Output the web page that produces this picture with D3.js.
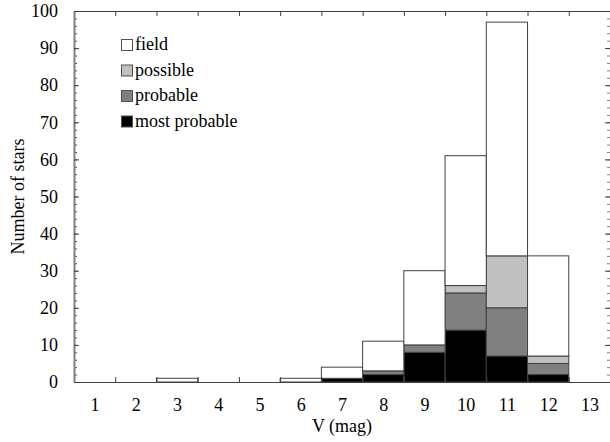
<!DOCTYPE html>
<html>
<head>
<meta charset="utf-8">
<script src="https://cdn.jsdelivr.net/npm/d3@7"></script>
<style>
  body { margin: 0; background: #fff; }
  svg { display: block; }
  text { font-family: "Liberation Serif", "Times New Roman", serif; fill: #000; }
</style>
</head>
<body>
<svg id="chart" width="610" height="442"></svg>
<script>
// V magnitude bins and star counts per membership class
const mags = [1, 2, 3, 4, 5, 6, 7, 8, 9, 10, 11, 12, 13];
const mostProbable = [0, 0, 0, 0, 0, 0, 1, 2, 8, 14, 7, 2, 0];
const probable     = [0, 0, 0, 0, 0, 0, 0, 1, 2, 10, 13, 3, 0];
const possible     = [0, 0, 0, 0, 0, 0, 0, 0, 0, 2, 14, 2, 0];
const field        = [0, 0, 1, 0, 0, 1, 3, 8, 20, 35, 63, 27, 0];
const classes = ["most probable", "probable", "possible", "field"];
const legendOrder = ["field", "possible", "probable", "most probable"];
const yTicks = [0, 10, 20, 30, 40, 50, 60, 70, 80, 90, 100];

const colours = {
    "most probable": "#000000",
    "probable": "#808080",
    "possible": "#c0c0c0",
    "field": "#ffffff"
};

const svg = d3.select("#chart");
const plotL = 74, plotR = 610, plotT = 11, plotB = 382;

const x = d3.scaleLinear().domain([0.5, 13.5]).range([plotL, plotR]);
const y = d3.scaleLinear().domain([0, 100]).range([plotB, plotT]);

const rows = mags.map((m, i) => ({
    mag: m,
    "most probable": mostProbable[i],
    "probable": probable[i],
    "possible": possible[i],
    "field": field[i]
}));
const series = d3.stack().keys(classes)(rows);

// bars
series.forEach(s => {
    svg.append("g")
        .selectAll("rect")
        .data(s.filter(d => d[1] > d[0]))
        .enter().append("rect")
        .attr("x", d => x(d.data.mag - 0.5))
        .attr("width", d => x(d.data.mag + 0.5) - x(d.data.mag - 0.5))
        .attr("y", d => y(d[1]))
        .attr("height", d => y(d[0]) - y(d[1]))
        .attr("fill", colours[s.key])
        .attr("stroke", "#404040")
        .attr("stroke-width", 1);
});

// boundaries between bins for ticks
const edges = d3.range(1.5, 13, 1);

// bottom axis: inward ticks at bin edges
const bottomAxis = svg.append("g")
    .attr("transform", `translate(0,${plotB})`)
    .call(d3.axisBottom(x).tickValues(edges).tickSize(-5).tickSizeOuter(0).tickFormat(""));
bottomAxis.select(".domain").attr("stroke", "#404040");
bottomAxis.selectAll(".tick line").attr("stroke", "#404040");

// bottom labels at bin centres
const labelAxis = svg.append("g")
    .attr("transform", `translate(0,${plotB})`)
    .call(d3.axisBottom(x).tickValues(mags).tickSize(0).tickPadding(16));
labelAxis.select(".domain").remove();
labelAxis.selectAll("text")
    .attr("font-size", 18)
    .attr("font-family", "Liberation Serif");

// top axis
const topAxis = svg.append("g")
    .attr("transform", `translate(0,${plotT})`)
    .call(d3.axisTop(x).tickValues(edges).tickSize(-5).tickSizeOuter(0).tickFormat(""));
topAxis.select(".domain").attr("stroke", "#404040");
topAxis.selectAll(".tick line").attr("stroke", "#404040");

// left axis with minor ticks
const minorY = d3.range(0, 101, 2);
const leftMinor = svg.append("g")
    .attr("transform", `translate(${plotL},0)`)
    .call(d3.axisLeft(y).tickValues(minorY).tickSize(-3).tickSizeOuter(0).tickFormat(""));
leftMinor.select(".domain").remove();
leftMinor.selectAll(".tick line").attr("stroke", "#505050");

const leftAxis = svg.append("g")
    .attr("transform", `translate(${plotL},0)`)
    .call(d3.axisLeft(y).tickValues(yTicks).tickSize(-5).tickSizeOuter(0).tickPadding(16));
leftAxis.select(".domain").attr("stroke", "#808080").attr("stroke-width", 2);
leftAxis.selectAll(".tick line").attr("stroke", "#404040");
leftAxis.selectAll("text")
    .attr("font-size", 18)
    .attr("font-family", "Liberation Serif");

// right axis
const rightMinor = svg.append("g")
    .attr("transform", `translate(${plotR},0)`)
    .call(d3.axisRight(y).tickValues(minorY).tickSize(-3).tickSizeOuter(0).tickFormat(""));
rightMinor.select(".domain").remove();
rightMinor.selectAll(".tick line").attr("stroke", "#808080");
const rightAxis = svg.append("g")
    .attr("transform", `translate(${plotR},0)`)
    .call(d3.axisRight(y).tickValues(yTicks).tickSize(-5).tickSizeOuter(0).tickFormat(""));
rightAxis.selectAll(".tick line").attr("stroke", "#404040");

// axis titles
svg.append("text")
    .attr("x", (plotL + plotR) / 2)
    .attr("y", 432)
    .attr("text-anchor", "middle")
    .attr("font-size", 18)
    .text("V (mag)");

svg.append("text")
    .attr("transform", `translate(24,${(plotT + plotB) / 2}) rotate(-90)`)
    .attr("text-anchor", "middle")
    .attr("font-size", 18)
    .text("Number of stars");

// legend
const legend = svg.append("g").attr("transform", "translate(121,39)");
legendOrder.forEach((k, i) => {
    legend.append("rect")
        .attr("x", 0.5)
        .attr("y", i * 25.5 + 0.5)
        .attr("width", 11)
        .attr("height", 11)
        .attr("fill", colours[k])
        .attr("stroke", "#505050");
    legend.append("text")
        .attr("x", 14)
        .attr("y", i * 25.5 + 11)
        .attr("font-size", 18)
        .text(k);
});
</script>
</body>
</html>
